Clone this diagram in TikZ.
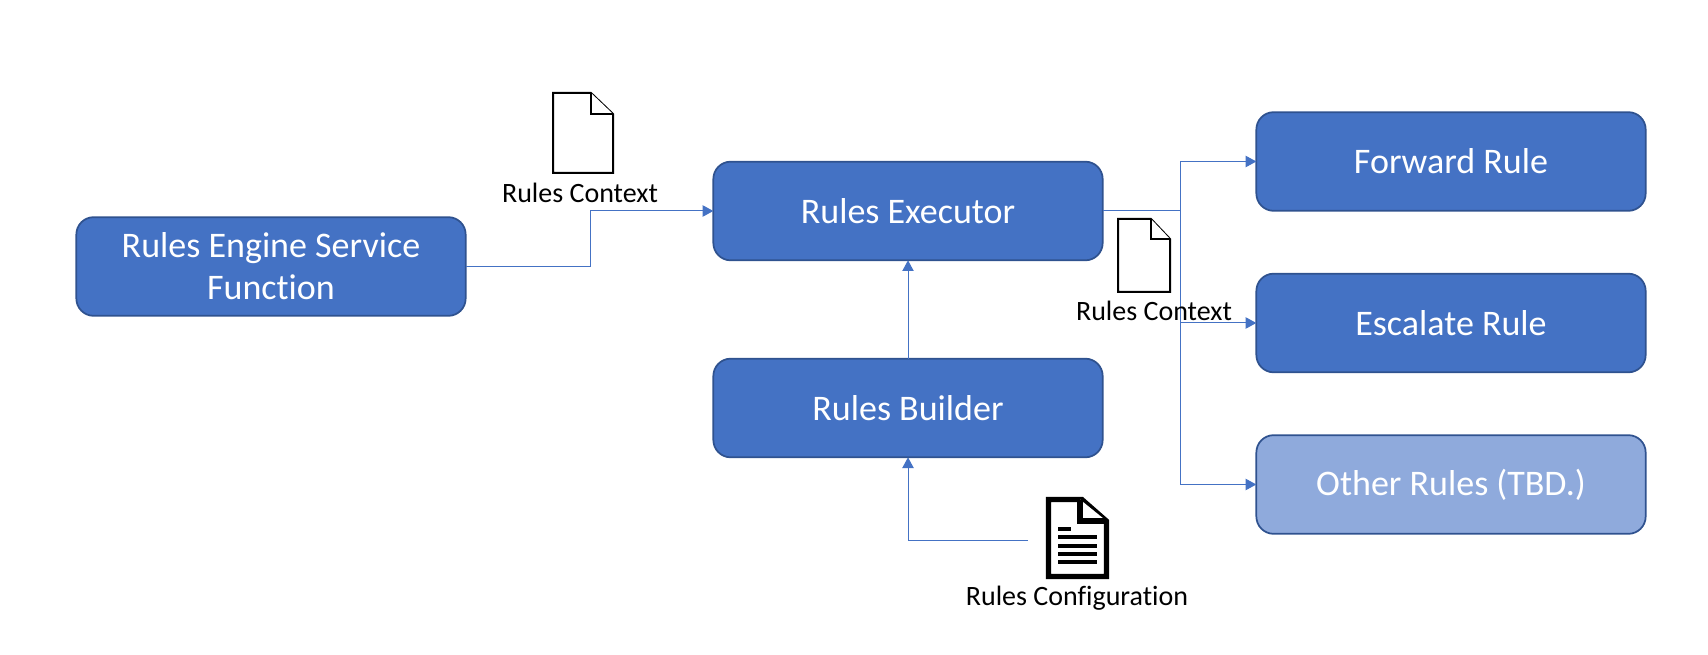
\documentclass[tikz,border=0pt]{standalone}
\usepackage{xcolor}
\usepackage{fontspec}
\setmainfont{Carlito}[Ligatures=CommonOff]
\usepackage{tikz}
\usetikzlibrary{arrows.meta}

\definecolor{boxblue}{HTML}{4472C4}
\definecolor{boxedge}{HTML}{2F528F}
\definecolor{boxlight}{HTML}{8FAADC}

\tikzset{
  rulebox/.style={rectangle, rounded corners=13pt, draw=boxedge, line width=1.3pt, fill=boxblue,
    text=white, minimum width=292pt, minimum height=74pt, inner sep=0pt, outer sep=0pt, align=center,
    font=\fontsize{27}{31.5}\selectfont},
  link/.style={draw=boxblue, line width=0.75pt},
  linkarrow/.style={link, -{Triangle[length=8pt,width=8.5pt]}},
  doclabel/.style={inner sep=0pt, text=black, font=\fontsize{21}{25}\selectfont},
  docline/.style={draw=black, line width=1.5pt, fill=white, line join=miter}
}

\begin{document}
\begin{tikzpicture}[x=0.75pt,y=-0.75pt]
    \useasboundingbox (0,0) rectangle (1708,655);

    \node [rulebox] (engine) at (271,266.5) {Rules Engine Service\\Function};
    \node [rulebox] (executor) at (908,211) {Rules Executor};
    \node [rulebox] (builder) at (908,408) {Rules Builder};
    \node [rulebox] (forward) at (1451,161.5) {Forward Rule};
    \node [rulebox] (escalate) at (1451,323) {Escalate Rule};
    \node [rulebox, fill=boxlight] (other) at (1451,484.5) {Other Rules (TBD.)};

    % connectors
    \coordinate (bend) at (590,266.5);
    \coordinate (branch) at (1180,211);
    \coordinate (config) at (1028,540);
    \draw [linkarrow] (engine.east) -- (bend) |- (executor.west);
    \draw [linkarrow] (builder) -- (executor);
    \draw [linkarrow] (config) -| (builder);
    \draw [link] (executor.east) -- (branch);
    \draw [linkarrow] (branch) |- (forward.west);
    \draw [linkarrow] (branch) |- (escalate.west);
    \draw [linkarrow] (branch) |- (other.west);

    % first context page
    \draw [docline] (553,93) -- (591,93) -- (613,114) -- (613,173) -- (553,173) -- cycle;
    \draw [docline] (591,93) -- (591,114) -- (613,114);
    \node [doclabel] (ctxa) at (580,192.5) {Rules Context};

    % second context page
    \draw [docline] (1118,219) -- (1151,219) -- (1170,239) -- (1170,292) -- (1118,292) -- cycle;
    \draw [docline] (1151,219) -- (1151,239) -- (1170,239);
    \node [doclabel] (ctxb) at (1154,311) {Rules Context};

    % configuration page
    \draw [docline, line width=3.8pt] (1048.5,499.5) -- (1082,499.5) -- (1106.5,521) -- (1106.5,576.5) -- (1048.5,576.5) -- cycle;
    \draw [docline, line width=3.8pt] (1080,499.5) -- (1080,521) -- (1106.5,521);
    \foreach \ypos/\xend in {529/1071,537/1097,546/1097,554/1097,562/1097}
      \draw [black, line width=3pt] (1058,\ypos) -- (\xend,\ypos);
    \node [doclabel] (cfg) at (1077,598) {Rules Configuration};
  \end{tikzpicture}
\end{document}
